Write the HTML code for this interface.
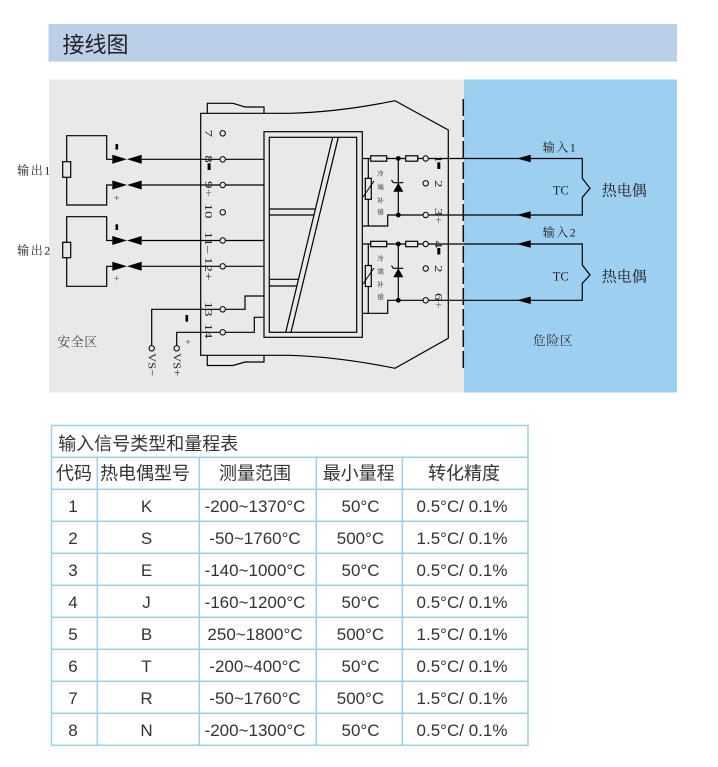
<!DOCTYPE html>
<html><head><meta charset="utf-8"><style>
html,body{margin:0;padding:0;background:#fff;}
svg{display:block;}
.sans{font-family:"Liberation Sans","Noto Sans CJK SC",sans-serif;}
.serif{font-family:"Liberation Serif","Noto Serif CJK SC",serif;}
</style></head><body>
<svg width="718" height="767" viewBox="0 0 718 767" xmlns="http://www.w3.org/2000/svg">
<rect width="718" height="767" fill="#fff"/>
<!-- title bar -->
<rect x="48.5" y="24" width="628.5" height="37.7" fill="#bccfe9"/>
<text class="sans" x="62.5" y="52.5" font-size="22" fill="#222">接线图</text>

<!-- diagram backgrounds -->
<rect x="49" y="79.5" width="415" height="313" fill="#e9e9e9"/>
<rect x="464" y="79.5" width="213" height="313" fill="#9dcff0"/>
<line x1="463.3" y1="99" x2="463.3" y2="369" stroke="#111" stroke-width="1.5" stroke-dasharray="17,4"/>

<g stroke="#000" stroke-width="1.2" fill="none">
  <!-- device body -->
  <path d="M200.7,113.3 H290 Q340,112 395,100.7 L448.3,130 V338.3 L395,368.3 Q340,357 290,355.3 H200.7 Z"/>
  <path d="M207.3,113.3 V103.3 H233 L245,107 H264 V113.3"/>
  <path d="M207.3,355.3 V365.5 H233 L245,362 H264 V355.3"/>
  <rect x="264" y="131.7" width="98.3" height="205.6"/>
  <rect x="269.3" y="137.3" width="87.4" height="195"/>
  <line x1="332.7" y1="137.3" x2="285.7" y2="332.3"/>
  <line x1="338.3" y1="137.3" x2="291" y2="332.3"/>
  <line x1="269.3" y1="209" x2="315.4" y2="209"/>
  <line x1="269.3" y1="215" x2="314" y2="215"/>
  <line x1="269.3" y1="279.3" x2="298.5" y2="279.3"/>
  <line x1="269.3" y1="286" x2="296.9" y2="286"/>

  <!-- left terminals wiring -->
  <path d="M225.4,159.3 H264"/>
  <path d="M225.4,185 H264"/>
  <path d="M225.4,240.5 H264"/>
  <path d="M225.4,266.3 H264"/>
  <path d="M225.4,309.3 H245 V296 H264"/>
  <path d="M225.4,332.3 H254.3 V317.3 H264"/>

  <path d="M141.7,159.3 H220"/>
  <path d="M141.7,185 H220"/>
  <path d="M141.7,240.5 H220"/>
  <path d="M141.7,266.3 H220"/>
  <path d="M151.7,345.6 V309.3 H220"/>
  <path d="M176.7,345.6 V332.3 H220"/>

  <!-- output loops -->
  <path d="M112.3,159.3 H106.7 V135.7 H66.7 V205 H106.7 V185 H112.3"/>
  <path d="M112.3,240.5 H106.7 V216.7 H66.7 V286.3 H106.7 V266.3 H112.3"/>
  <rect x="62.7" y="161.7" width="8" height="15.6" fill="#e9e9e9"/>
  <rect x="62.7" y="242.3" width="8" height="15.4" fill="#e9e9e9"/>

  <!-- cold junction circuit 1 -->
  <path d="M362.3,158.5 H370.7 M386.7,158.5 H405.7 M417.7,158.5 H423"/>
  <rect x="370.7" y="155.8" width="16" height="5.4" fill="#e9e9e9"/>
  <rect x="405.7" y="155.8" width="12" height="5.4" fill="#e9e9e9"/>
  <path d="M368.3,158.5 V226"/>
  <rect x="365.3" y="178.3" width="6" height="21" fill="#e9e9e9"/>
  <line x1="363" y1="197" x2="374" y2="181" stroke-width="1"/>
  <path d="M362.3,226 H387.7 V215 H423"/>
  <path d="M398.3,158.5 V215"/>
  <path d="M393.3,182.7 H403.3 M393.3,182.7 L391.5,180"/>

  <!-- cold junction circuit 2 -->
  <path d="M362.3,244 H370.7 M386.7,244 H405.7 M417.7,244 H423"/>
  <rect x="370.7" y="241.3" width="16" height="5.4" fill="#e9e9e9"/>
  <rect x="405.7" y="241.3" width="12" height="5.4" fill="#e9e9e9"/>
  <path d="M368.3,244 V313.3"/>
  <rect x="365.3" y="265.5" width="6" height="21" fill="#e9e9e9"/>
  <line x1="363" y1="284" x2="374" y2="268" stroke-width="1"/>
  <path d="M362.3,313.3 H387.7 V300.3 H423"/>
  <path d="M398.3,244 V300.3"/>
  <path d="M393.3,268.3 H403.3 M393.3,268.3 L391.5,265.6"/>

  <!-- right side wiring -->
  <path d="M428.4,158.5 H582.3 V178.3 L590,188.3 L582.3,197.3 V215 H428.4"/>
  <path d="M428.4,244 H582.3 V265 L590,275 L582.3,283.3 V300.3 H428.4"/>
</g>

<!-- terminal circles -->
<g stroke="#000" stroke-width="1" fill="#e9e9e9">
  <circle cx="222.7" cy="133.3" r="2.7"/>
  <circle cx="222.7" cy="159.3" r="2.7"/>
  <circle cx="222.7" cy="185" r="2.7"/>
  <circle cx="222.7" cy="212.3" r="2.7"/>
  <circle cx="222.7" cy="240.5" r="2.7"/>
  <circle cx="222.7" cy="266.3" r="2.7"/>
  <circle cx="222.7" cy="309.3" r="2.7"/>
  <circle cx="222.7" cy="332.3" r="2.7"/>
  <circle cx="425.7" cy="158.5" r="2.7"/>
  <circle cx="425.7" cy="183.3" r="2.7"/>
  <circle cx="425.7" cy="215" r="2.7"/>
  <circle cx="425.7" cy="244" r="2.7"/>
  <circle cx="425.7" cy="268.5" r="2.7"/>
  <circle cx="425.7" cy="300.3" r="2.7"/>
  <circle cx="151.7" cy="348.3" r="2.7"/>
  <circle cx="176.7" cy="348.3" r="2.7"/>
</g>

<!-- filled parts -->
<g fill="#000">
  <polygon points="112.3,154.8 127,159.3 112.3,163.8"/>
  <polygon points="141.7,154.8 127,159.3 141.7,163.8"/>
  <polygon points="112.3,180.5 127,185 112.3,189.5"/>
  <polygon points="141.7,180.5 127,185 141.7,189.5"/>
  <polygon points="112.3,236 127,240.5 112.3,245"/>
  <polygon points="141.7,236 127,240.5 141.7,245"/>
  <polygon points="112.3,261.8 127,266.3 112.3,270.8"/>
  <polygon points="141.7,261.8 127,266.3 141.7,270.8"/>
  <rect x="115.5" y="144" width="2.6" height="5.6"/>
  <rect x="115.5" y="224.3" width="2.6" height="5.7"/>
  <rect x="185.5" y="315" width="2.6" height="6.7"/>
  <rect x="207.6" y="163.3" width="3" height="6.7"/>
  <rect x="437.3" y="162.3" width="3" height="6.7"/>
  <rect x="437.3" y="248" width="3" height="6.5"/>
  <circle cx="398.3" cy="158.5" r="2.4"/>
  <circle cx="398.3" cy="215" r="2.4"/>
  <circle cx="398.3" cy="244" r="2.4"/>
  <circle cx="398.3" cy="300.3" r="2.4"/>
  <polygon points="398.3,182.7 393.3,191.7 403.3,191.7"/>
  <polygon points="398.3,268.3 393.3,277.3 403.3,277.3"/>
  <polygon points="516.7,158.5 530.7,154.8 530.7,162.2"/>
  <polygon points="516.7,215 530.7,211.3 530.7,218.7"/>
  <polygon points="516.7,244 530.7,240.3 530.7,247.7"/>
  <polygon points="516.7,300.3 530.7,296.6 530.7,304"/>
</g>

<!-- rotated terminal labels -->
<g class="serif" font-size="10" fill="#222">
  <text transform="translate(205,129.5) rotate(90) scale(1.5,1)">7</text>
  <text transform="translate(205,155.3) rotate(90) scale(1.5,1)">8</text>
  <text transform="translate(205,181) rotate(90) scale(1.5,1)">9<tspan fill="#666">+</tspan></text>
  <text transform="translate(205,203.5) rotate(90) scale(1.5,1)">10</text>
  <text transform="translate(205,231.5) rotate(90) scale(1.5,1)">11–</text>
  <text transform="translate(205,257) rotate(90) scale(1.5,1)">12+</text>
  <text transform="translate(205,301.5) rotate(90) scale(1.5,1)">13</text>
  <text transform="translate(205,323.5) rotate(90) scale(1.5,1)">14</text>

  <text transform="translate(435,155.5) rotate(90) scale(1.5,1)">1</text>
  <text transform="translate(435,180) rotate(90) scale(1.5,1)">2</text>
  <text transform="translate(435,208) rotate(90) scale(1.5,1)">3<tspan fill="#666">+</tspan></text>
  <text transform="translate(435,240.5) rotate(90) scale(1.5,1)">4</text>
  <text transform="translate(435,265) rotate(90) scale(1.5,1)">2</text>
  <text transform="translate(435,293) rotate(90) scale(1.5,1)">6<tspan fill="#666">+</tspan></text>

  <text transform="translate(148.3,353) rotate(90) scale(1.15,1)" font-size="11">VS−</text>
  <text transform="translate(173.3,353) rotate(90) scale(1.15,1)" font-size="11">VS+</text>
</g>

<!-- plus signs -->
<g class="sans" font-size="9" fill="#555" text-anchor="middle">
  <text x="116.8" y="201">+</text>
  <text x="116.8" y="281.5">+</text>
  <text x="188" y="345">+</text>
</g>

<!-- cold junction text -->
<g class="sans" font-size="6.5" fill="#444" text-anchor="middle">
  <text x="380.5" y="175.5">冷</text>
  <text x="380.5" y="189">端</text>
  <text x="380.5" y="202.3">补</text>
  <text x="380.5" y="214">偿</text>
  <text x="380.5" y="260.5">冷</text>
  <text x="380.5" y="273.3">端</text>
  <text x="380.5" y="286.3">补</text>
  <text x="380.5" y="299">偿</text>
</g>

<!-- diagram labels -->
<g class="serif" fill="#222">
  <text x="17.3" y="174.6" font-size="12" letter-spacing="1.5">输出1</text>
  <text x="17.3" y="254.6" font-size="12" letter-spacing="1.5">输出2</text>
  <text x="57.3" y="346.5" font-size="13" letter-spacing="0.5" fill="#444">安全区</text>
  <text x="542.7" y="151.3" font-size="12" letter-spacing="1.5">输入1</text>
  <text x="542.7" y="236.3" font-size="12" letter-spacing="1.5">输入2</text>
  <text x="552.7" y="194.5" font-size="12.5">TC</text>
  <text x="552.7" y="280.5" font-size="12.5">TC</text>
  <text x="601.7" y="195.7" font-size="15">热电偶</text>
  <text x="601.7" y="281.7" font-size="15">热电偶</text>
  <text x="532.7" y="344.8" font-size="13" letter-spacing="0.5" fill="#333">危险区</text>
</g>

<!-- table -->
<g stroke="#9fcdec" stroke-width="1.5" fill="none">
  <rect x="51.5" y="425.5" width="476.5" height="319.8"/>
  <path d="M51.5,457.3 H528 M51.5,489.3 H528 M51.5,521.3 H528 M51.5,553.3 H528 M51.5,585.3 H528 M51.5,617.3 H528 M51.5,649.3 H528 M51.5,681.3 H528 M51.5,713.3 H528"/>
  <path d="M97.3,457.3 V745.3 M199.3,457.3 V745.3 M316.3,457.3 V745.3 M402.3,457.3 V745.3"/>
</g>
<g class="sans" fill="#333">
  <text x="58.3" y="450" font-size="18">输入信号类型和量程表</text>
  <g font-size="18" text-anchor="middle">
    <text x="74" y="479.5">代码</text>
    <text x="145" y="479.5">热电偶型号</text>
    <text x="255" y="479.5">测量范围</text>
    <text x="358.7" y="479.5">最小量程</text>
    <text x="464" y="479.5">转化精度</text>
  </g>
  <g font-size="17" text-anchor="middle">
    <text x="73" y="511.8">1</text><text x="146.5" y="511.8">K</text><text x="255" y="511.8">-200~1370°C</text><text x="360.5" y="511.8">50°C</text><text x="462" y="511.8">0.5°C/ 0.1%</text>
    <text x="73" y="543.8">2</text><text x="146.5" y="543.8">S</text><text x="255" y="543.8">-50~1760°C</text><text x="360.5" y="543.8">500°C</text><text x="462" y="543.8">1.5°C/ 0.1%</text>
    <text x="73" y="575.8">3</text><text x="146.5" y="575.8">E</text><text x="255" y="575.8">-140~1000°C</text><text x="360.5" y="575.8">50°C</text><text x="462" y="575.8">0.5°C/ 0.1%</text>
    <text x="73" y="607.8">4</text><text x="146.5" y="607.8">J</text><text x="255" y="607.8">-160~1200°C</text><text x="360.5" y="607.8">50°C</text><text x="462" y="607.8">0.5°C/ 0.1%</text>
    <text x="73" y="639.8">5</text><text x="146.5" y="639.8">B</text><text x="255" y="639.8">250~1800°C</text><text x="360.5" y="639.8">500°C</text><text x="462" y="639.8">1.5°C/ 0.1%</text>
    <text x="73" y="671.8">6</text><text x="146.5" y="671.8">T</text><text x="255" y="671.8">-200~400°C</text><text x="360.5" y="671.8">50°C</text><text x="462" y="671.8">0.5°C/ 0.1%</text>
    <text x="73" y="703.8">7</text><text x="146.5" y="703.8">R</text><text x="255" y="703.8">-50~1760°C</text><text x="360.5" y="703.8">500°C</text><text x="462" y="703.8">1.5°C/ 0.1%</text>
    <text x="73" y="735.8">8</text><text x="146.5" y="735.8">N</text><text x="255" y="735.8">-200~1300°C</text><text x="360.5" y="735.8">50°C</text><text x="462" y="735.8">0.5°C/ 0.1%</text>
  </g>
</g>
</svg>
</body></html>
